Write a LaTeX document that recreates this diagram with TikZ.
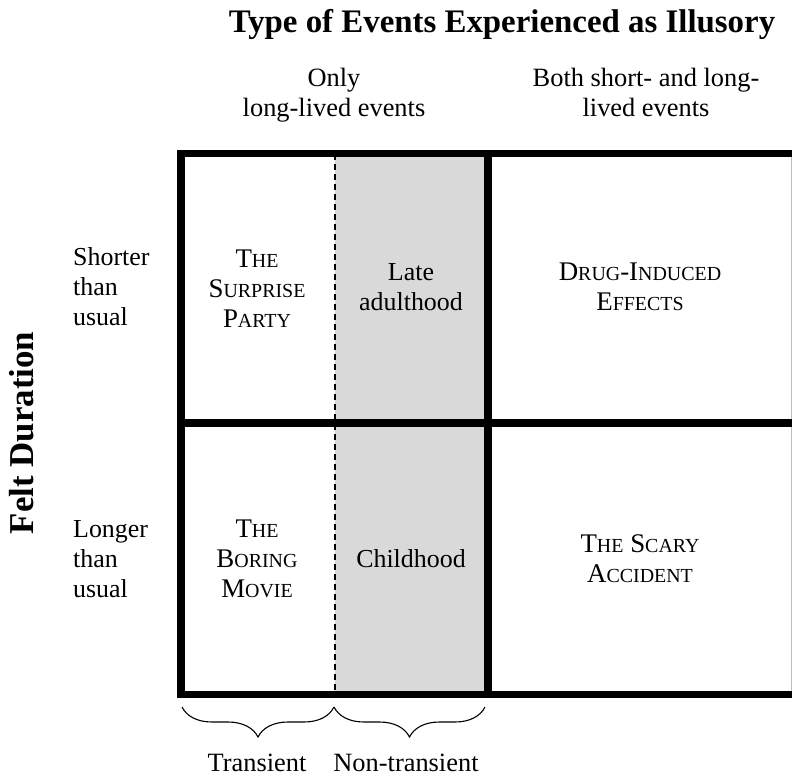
\documentclass[tikz,border=0pt]{standalone}
\usepackage{fontspec}
\setmainfont{Liberation Serif}
\usetikzlibrary{decorations.pathreplacing}
% small letters of the hand-made small caps
\newcommand\capsm[1]{{\fontsize{20}{30}\selectfont #1}}
\begin{document}
\begin{tikzpicture}[x=1bp,y=-1bp,
  gridline/.style={line width=7.5bp,line cap=rect},
  splitline/.style={line width=1.6bp,dash pattern=on 6.5bp off 3.5bp},
  headtext/.style={font=\bfseries\fontsize{33}{36}\selectfont,inner sep=0pt},
  labeltext/.style={font=\fontsize{26.5}{30}\selectfont,align=center,inner sep=0pt,anchor=base},
  rowtext/.style={font=\fontsize{26}{30}\selectfont,align=left,inner sep=0pt,anchor=base west},
  celltext/.style={font=\fontsize{27}{30}\selectfont,align=center,inner sep=0pt,anchor=base},
  bracebox/.style={decorate,decoration={brace,mirror,amplitude=30bp},line width=1.1bp}]
\useasboundingbox (0,0) rectangle (792,776);

% shaded non-transient column
\fill[black!15] (335,153.5) rectangle (488,694.5);
\draw[splitline] (335,153.5) -- (335,694.5);
\draw[gray!50,line width=0.8bp] (791.4,153.5) -- (791.4,694.5);

% grid
\draw[gridline] (181,153.5) -- (792,153.5);
\draw[gridline] (181,423) -- (792,423);
\draw[gridline] (181,694.5) -- (792,694.5);
\draw[gridline] (181,153.5) -- (181,694.5);
\draw[gridline] (488,153.5) -- (488,694.5);

% headings (multi-line nodes sit on the baseline of their last line)
\node[headtext,anchor=base] (title) at (502,33) {Type of Events Experienced as Illusory};
\node[headtext,anchor=base,rotate=90,font=\bfseries\fontsize{35}{36}\selectfont] (felt) at (33,433) {Felt Duration};
\node[labeltext] (only) at (334,116) {Only\\long-lived events};
\node[labeltext] (both) at (646,116) {Both short- and long-\\lived events};

% row labels
\node[rowtext] (shorter) at (73,325) {Shorter\\than\\usual};
\node[rowtext] (longer) at (73,597) {Longer\\than\\usual};

% cells
\node[celltext] (surprise) at (257,327) {T\capsm{HE}\\S\capsm{URPRISE}\\P\capsm{ARTY}};
\node[labeltext,font=\fontsize{26}{30}\selectfont] (late) at (411,310) {Late\\adulthood};
\node[celltext] (drug) at (640,310) {D\capsm{RUG}-I\capsm{NDUCED}\\E\capsm{FFECTS}};
\node[celltext] (boring) at (257,597) {T\capsm{HE}\\B\capsm{ORING}\\M\capsm{OVIE}};
\node[labeltext,font=\fontsize{26}{30}\selectfont] (child) at (411,567) {Childhood};
\node[celltext] (scary) at (640,582) {T\capsm{HE} S\capsm{CARY}\\A\capsm{CCIDENT}};

% braces under the left block
\coordinate (b0) at (182,707);
\coordinate (b1) at (334,707);
\coordinate (b2) at (485,707);
\draw[bracebox] (b0) -- (b1);
\draw[bracebox] (b1) -- (b2);
\node[labeltext] (transient) at (257,771) {Transient};
\node[labeltext] (nontransient) at (406,771) {Non-transient};
\end{tikzpicture}
\end{document}
